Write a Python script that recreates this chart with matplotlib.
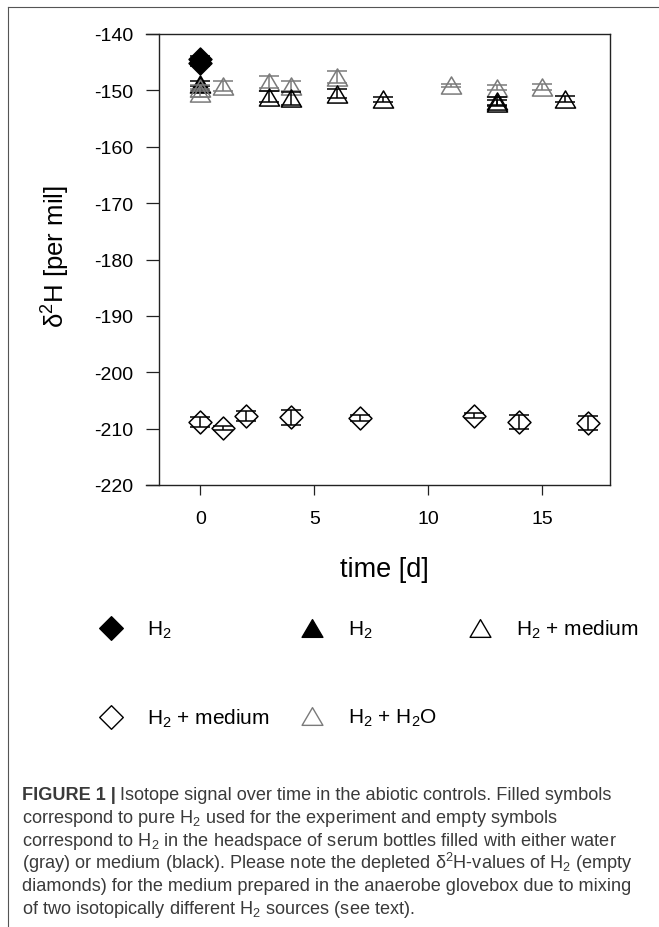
import matplotlib
matplotlib.use('Agg')
import matplotlib.pyplot as plt
from matplotlib.lines import Line2D
from matplotlib.path import Path

plt.rcParams['font.family'] = ['Liberation Sans', 'DejaVu Sans']
plt.rcParams['mathtext.fontset'] = 'custom'
plt.rcParams['mathtext.rm'] = 'Liberation Sans'
plt.rcParams['mathtext.it'] = 'Liberation Sans:italic'
plt.rcParams['mathtext.bf'] = 'Liberation Sans:bold'
plt.rcParams['axes.unicode_minus'] = False

# ---------------- data ----------------
h2_dia_day = [0, 0]
h2_dia_val = [-144.4, -145.1]
h2_dia_err = [0.5, 0.5]

h2_tri_day = [0]
h2_tri_val = [-148.8]
h2_tri_err = [0.4]

water_tri_day = [0, 0, 1, 3, 4, 6, 11, 13, 15]
water_tri_val = [-149.6, -150.4, -149.2, -148.5, -149.2, -147.6, -149.1, -149.5, -149.4]
water_tri_err = [0.5, 0.7, 0.9, 1.0, 0.9, 1.1, 0.3, 0.5, 0.6]

med_tri_day = [3, 4, 6, 8, 13, 13, 16]
med_tri_val = [-151.1, -151.4, -150.6, -151.6, -151.9, -152.2, -151.5]
med_tri_err = [1.0, 1.2, 0.8, 0.5, 0.7, 0.5, 0.5]

med_dia_day = [0, 1, 2, 4, 7, 12, 14, 17]
med_dia_val = [-208.9, -209.9, -207.8, -208.0, -208.1, -207.7, -208.8, -209.0]
med_dia_err = [0.9, 0.4, 0.9, 1.3, 0.5, 0.5, 1.3, 1.3]

x_ticks = [0, 5, 10, 15]
y_ticks = [-220, -210, -200, -190, -180, -170, -160, -150, -140]

legend_labels = ['H$_2$', 'H$_2$ + medium', 'H$_2$', 'H$_2$ + H$_2$O', 'H$_2$ + medium']

caption_lines = [
    "correspond to pure H$_2$ used for the experiment and empty symbols",
    "correspond to H$_2$ in the headspace of serum bottles filled with either water",
    "(gray) or medium (black). Please note the depleted \u03b4$^2$H-values of H$_2$ (empty",
    "diamonds) for the medium prepared in the anaerobe glovebox due to mixing",
    "of two isotopically different H$_2$ sources (see text).",
]

# ---------------- layout ----------------
W, H = 659, 928
fig = plt.figure(figsize=(W / 100, H / 100), dpi=100)
L, R, T, B = 146, 610, 35, 486
ax = fig.add_axes([L / W, 1 - B / H, (R - L) / W, (B - T) / H])


def closed_marker(pts):
    verts = list(pts) + [pts[0]]
    codes = [Path.MOVETO] + [Path.LINETO] * (len(pts) - 1) + [Path.CLOSEPOLY]
    return Path(verts, codes)


TRI = closed_marker([(0, 0.85), (-1, -0.85), (1, -0.85)])
DIA = closed_marker([(0, 1), (1, 0), (0, -1), (-1, 0)])
GRAY = '#7a7a7a'

common = dict(ls='none', capsize=7.5, elinewidth=1.1, capthick=1.1, mew=1.1)

ax.errorbar(h2_dia_day, h2_dia_val, yerr=h2_dia_err, marker=DIA, ms=16.5,
            mfc='k', mec='k', ecolor='k', zorder=3, **common)
ax.errorbar(h2_tri_day, h2_tri_val, yerr=h2_tri_err, marker=TRI, ms=14.5,
            mfc='k', mec='k', ecolor='k', zorder=3, **common)
ax.errorbar(water_tri_day, water_tri_val, yerr=water_tri_err, marker=TRI, ms=14.5,
            mfc='none', mec=GRAY, ecolor=GRAY, zorder=4, **common)
ax.errorbar(med_tri_day, med_tri_val, yerr=med_tri_err, marker=TRI, ms=14.5,
            mfc='none', mec='k', ecolor='k', zorder=5, **common)
ax.errorbar(med_dia_day, med_dia_val, yerr=med_dia_err, marker=DIA, ms=16.5,
            mfc='none', mec='k', ecolor='k', zorder=5, **common)

ax.set_xlim(-2.38, 17.97)
ax.set_ylim(-220, -140)
ax.spines['left'].set_position(('data', -1.81))
for s in ax.spines.values():
    s.set_linewidth(1.0)
    s.set_color('#222222')
ax.set_xticks(x_ticks)
ax.set_yticks(y_ticks)
ax.tick_params(axis='y', direction='out', length=9.4, width=0.9, labelsize=14, pad=9.4, colors='#222222', labelcolor='black')
ax.tick_params(axis='x', direction='out', length=7.2, width=0.9, labelsize=14, pad=10.5, colors='#222222', labelcolor='black')

fig.text(384 / W, 1 - 570 / H, 'time [d]', ha='center', va='center', fontsize=19.5)
fig.text(56 / W, 1 - 257 / H, '\u03b4$^2$H [per mil]', ha='center', va='center',
         rotation=90, fontsize=18.5)

# ---------------- legend ----------------
handles = [
    Line2D([], [], ls='none', marker=DIA, ms=17, mfc='k', mec='k', mew=1.0),
    Line2D([], [], ls='none', marker=DIA, ms=17, mfc='none', mec='k', mew=1.0),
    Line2D([], [], ls='none', marker=TRI, ms=15, mfc='k', mec='k', mew=1.0),
    Line2D([], [], ls='none', marker=TRI, ms=15, mfc='none', mec=GRAY, mew=1.0),
    Line2D([], [], ls='none', marker=TRI, ms=15, mfc='none', mec='k', mew=1.0),
]
fig.legend(handles, legend_labels, loc='upper left', bbox_to_anchor=(95 / W, 1 - 619 / H),
           ncol=3, frameon=False, fontsize=15, handlelength=1.5, handletextpad=0.98,
           columnspacing=1.3, labelspacing=3.2, borderpad=0, borderaxespad=0)

# ---------------- frame lines ----------------
fig.add_artist(Line2D([8 / W, 8 / W], [0, 1 - 8 / H], transform=fig.transFigure,
                      color='#555555', lw=0.8))
fig.add_artist(Line2D([8 / W, 1], [1 - 8 / H, 1 - 8 / H], transform=fig.transFigure,
                      color='#555555', lw=0.8))

# ---------------- caption ----------------
CAP = 13.1
CCOL = '#3a3a3a'
t1 = fig.text(22 / W, 1 - 800 / H, 'FIGURE 1 |', fontsize=CAP, weight='bold',
              va='baseline', ha='left', color=CCOL)
renderer = fig.canvas.get_renderer()
bb = t1.get_window_extent(renderer)
fig.text((bb.x1 + 4) / W, 1 - 800 / H,
         'Isotope signal over time in the abiotic controls. Filled symbols',
         fontsize=CAP, va='baseline', ha='left', color=CCOL)
for i, line in enumerate(caption_lines):
    fig.text(22 / W, 1 - (823 + 22.8 * i) / H, line, fontsize=CAP,
             va='baseline', ha='left', color=CCOL)

fig.savefig('out.png', dpi=100)
